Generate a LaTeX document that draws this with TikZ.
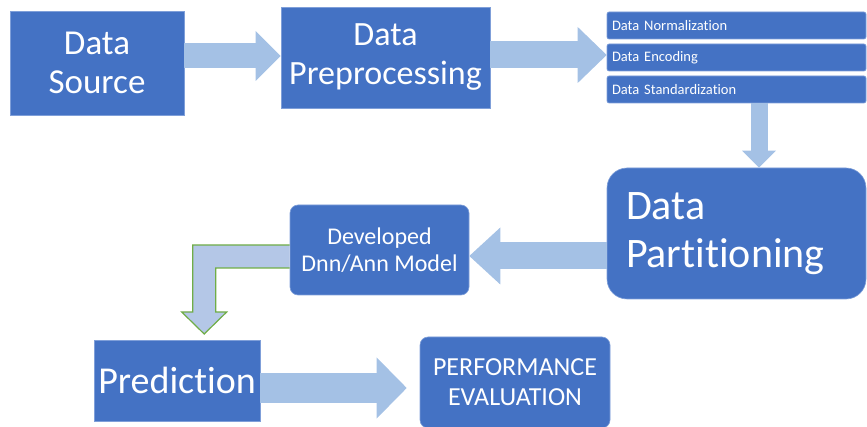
\documentclass[tikz,border=0pt]{standalone}
\usepackage{fontspec}
\setmainfont[Ligatures={NoCommon}]{Carlito}
\usetikzlibrary{arrows.meta, calc}
\definecolor{boxblue}{HTML}{4472C4}
\definecolor{boxedge}{HTML}{7F9FD9}
\definecolor{arrowblue}{HTML}{A4C1E5}
\definecolor{bentfill}{HTML}{B4C7E7}
\definecolor{bentedge}{HTML}{70AD47}

\begin{document}
\begin{tikzpicture}[x=1pt, y=-1pt,
    block/.style={rectangle, draw=boxedge, line width=0.6pt, fill=boxblue, text=white, align=center, inner sep=0pt},
    roundblock/.style={block, rounded corners=8pt},
    listitem/.style={block, rounded corners=2pt, minimum width=259pt, minimum height=27pt, text width=249pt, align=left, font=\fontsize{14.5}{16}\selectfont},
    barrow/.style n args={3}{draw=arrowblue, line width=#1, -{Triangle[length=#3, width=#2, line width=0pt]}}]
    \useasboundingbox (0,0) rectangle (867,427);

    \node[block, minimum width=174pt, minimum height=104pt, font=\fontsize{35}{39}\selectfont] (src) at (97,63) {Data\\Source};
    \node[block, minimum width=209pt, minimum height=101pt, font=\fontsize{34}{39}\selectfont] (prep) at (385.5,57.5) {Data\\Preprocessing};
    \node[listitem] (norm) at (736.5,25.5) {Data Normalization};
    \node[listitem] (enc) at (736.5,57.5) {Data Encoding};
    \node[listitem] (std) at (736.5,89.5) {Data Standardization};
    \node[roundblock, rounded corners=20pt, minimum width=259pt, minimum height=131pt, text width=221pt, align=left, font=\fontsize{42}{48}\selectfont] (part) at (736.5,233.5) {Data\\Partitioning};
    \node[roundblock, minimum width=179pt, minimum height=90pt, font=\fontsize{24}{27}\selectfont] (model) at (379.5,250) {Developed\\Dnn/Ann Model};
    \node[block, minimum width=166pt, minimum height=81pt, font=\fontsize{38}{42}\selectfont] (pred) at (177,380.5) {Prediction};
    \node[roundblock, minimum width=190pt, minimum height=91pt, font=\fontsize{26}{30}\selectfont] (perf) at (515,382.5) {PERFORMANCE\\EVALUATION};

    \draw[barrow={25pt}{50pt}{25pt}] ($(src.east)+(0,-7)$) -- ($(prep.west)+(0,-1.5)$);
    \draw[barrow={27pt}{56pt}{29pt}] ($(prep.east)+(0,-2.5)$) -- ($(enc.west)+(0,-2.5)$);
    \draw[barrow={17pt}{34pt}{17pt}] ($(std.south)+(22.5,0)$) -- ($(part.north)+(22.5,0)$);
    \draw[barrow={27pt}{57pt}{31pt}] ($(part.west)+(0,22.5)$) -- ($(model.east)+(0,6)$);
    \draw[barrow={30pt}{61pt}{30pt}] ($(pred.east)+(0,7.5)$) -- ($(perf.west)+(-13,5.5)$);

    % bent arrow from the model down to the prediction
    \fill[bentfill, shift={(model.west)}] (0,-5) -- (-97,-5) -- (-97,62) -- (-108,62) -- (-85.5,84) -- (-63,62) -- (-74,62) -- (-74,18) -- (0,18) -- cycle;
    \draw[bentedge, line width=1.2pt, line join=miter, shift={(model.west)}] (0,-5) -- (-97,-5) -- (-97,62) -- (-108,62) -- (-85.5,84) -- (-63,62) -- (-74,62) -- (-74,18) -- (0,18);
\end{tikzpicture}
\end{document}
